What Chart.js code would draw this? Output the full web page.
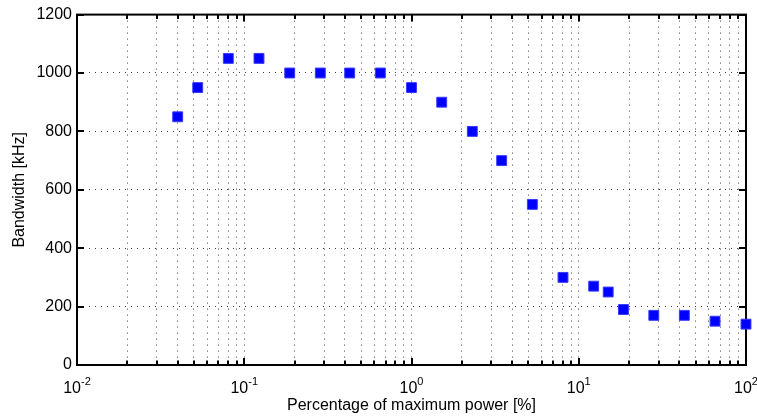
<!DOCTYPE html>
<html><head><meta charset="utf-8">
<script src="https://cdn.jsdelivr.net/npm/chart.js@4.4.1/dist/chart.umd.min.js"></script>
<style>html,body{margin:0;padding:0;background:#fff;} canvas{display:block;}</style>
</head><body>
<canvas id="c" width="757" height="416"></canvas>
<script>
// ---- data ----
const powerPct = [0.04, 0.0527, 0.0803, 0.1225, 0.187, 0.285, 0.427, 0.651, 1.0, 1.516, 2.31, 3.46, 5.28, 8.05, 12.28, 15.0, 18.5, 28.1, 42.8, 65.3, 100];
const bandwidthKHz = [850, 950, 1050, 1050, 1000, 1000, 1000, 1000, 950, 900, 800, 700, 550, 300, 270, 250, 190, 170, 170, 150, 140];
const yTicks = [0, 200, 400, 600, 800, 1000, 1200];
const xDecades = [0.01, 0.1, 1, 10, 100];
const xDecadeExponents = ['-2', '-1', '0', '1', '2'];
const xMinorMultipliers = [2, 3, 4, 5, 6, 7, 8, 9];
const xLabel = 'Percentage of maximum power [%]';
const yLabel = 'Bandwidth [kHz]';

const FONT = '"Liberation Sans", Arial, Helvetica, sans-serif';

const xTickValues = [];
xDecades.forEach((d, i) => {
  xTickValues.push({value: d, major: true});
  if (i < xDecades.length - 1) xMinorMultipliers.forEach(m => xTickValues.push({value: +(d * m).toPrecision(3), major: false}));
});

const framePlugin = {
  id: 'frame',
  beforeDatasetsDraw(chart) {
    const {ctx, chartArea: a, scales: {x, y}} = chart;
    ctx.save();
    ctx.strokeStyle = '#000';
    ctx.lineWidth = 2;
    ctx.beginPath();
    yTicks.forEach(v => {
      const py = Math.round(y.getPixelForValue(v));
      ctx.moveTo(a.left, py); ctx.lineTo(a.left + 7, py);
      ctx.moveTo(a.right, py); ctx.lineTo(a.right - 7, py);
    });
    x.ticks.forEach(t => {
      const px = Math.round(x.getPixelForValue(t.value));
      const len = t.major ? 7 : 4.5;
      ctx.moveTo(px, a.bottom); ctx.lineTo(px, a.bottom - len);
      ctx.moveTo(px, a.top); ctx.lineTo(px, a.top + len);
    });
    ctx.stroke();
    ctx.strokeRect(a.left, a.top, a.right - a.left, a.bottom - a.top);
    ctx.restore();
  },
  afterDraw(chart) {
    const {ctx, chartArea: a, scales: {x}} = chart;
    ctx.save();
    ctx.fillStyle = '#000';
    ctx.textAlign = 'left';
    ctx.textBaseline = 'alphabetic';
    xDecades.forEach((d, i) => {
      const px = x.getPixelForValue(d);
      ctx.font = '16px ' + FONT;
      const w1 = ctx.measureText('10').width;
      ctx.font = '11px ' + FONT;
      const w2 = ctx.measureText(xDecadeExponents[i]).width;
      const sx = px - (w1 + w2) / 2;
      ctx.font = '16px ' + FONT;
      ctx.fillText('10', sx, a.bottom + 28);
      ctx.font = '11px ' + FONT;
      ctx.fillText(xDecadeExponents[i], sx + w1, a.bottom + 20);
    });
    ctx.restore();
  }
};

new Chart(document.getElementById('c'), {
  type: 'scatter',
  data: {
    datasets: [{
      data: powerPct.map((p, i) => ({x: p, y: bandwidthKHz[i]})),
      pointStyle: 'rect',
      pointRadius: 7,
      pointBackgroundColor: '#0000ff',
      pointBorderColor: '#3a3aff',
      pointBorderWidth: 1,
      clip: false
    }]
  },
  options: {
    responsive: false,
    animation: false,
    events: [],
    layout: {padding: {top: 14, right: 11, left: 0, bottom: 0}},
    plugins: {legend: {display: false}, tooltip: {enabled: false}},
    scales: {
      x: {
        type: 'logarithmic', min: 0.01, max: 100,
        afterBuildTicks(s) { s.ticks = xTickValues.map(t => ({value: t.value, major: t.major})); },
        afterFit(s) { s.height = 51; },
        ticks: {display: false, autoSkip: false},
        grid: {color: 'rgba(0,0,0,0.75)', lineWidth: 1, drawTicks: false},
        border: {display: false, dash: [1, 5]},
        title: {display: true, text: xLabel, color: '#000', font: {family: FONT, size: 16, lineHeight: 1.2}, padding: {top: 0, bottom: 1}}
      },
      y: {
        min: 0, max: 1200,
        afterBuildTicks(s) { s.ticks = yTicks.map(v => ({value: v})); },
        afterFit(s) { s.width = 77; },
        ticks: {color: '#000', font: {family: FONT, size: 16}, padding: 5, callback: v => String(v)},
        grid: {color: 'rgba(0,0,0,0.75)', lineWidth: 1, drawTicks: false},
        border: {display: false, dash: [1, 5]},
        title: {display: true, text: yLabel, color: '#000', font: {family: FONT, size: 16, lineHeight: 1.2}, padding: {top: 10, bottom: 0}}
      }
    }
  },
  plugins: [framePlugin]
});
</script>
</body></html>
